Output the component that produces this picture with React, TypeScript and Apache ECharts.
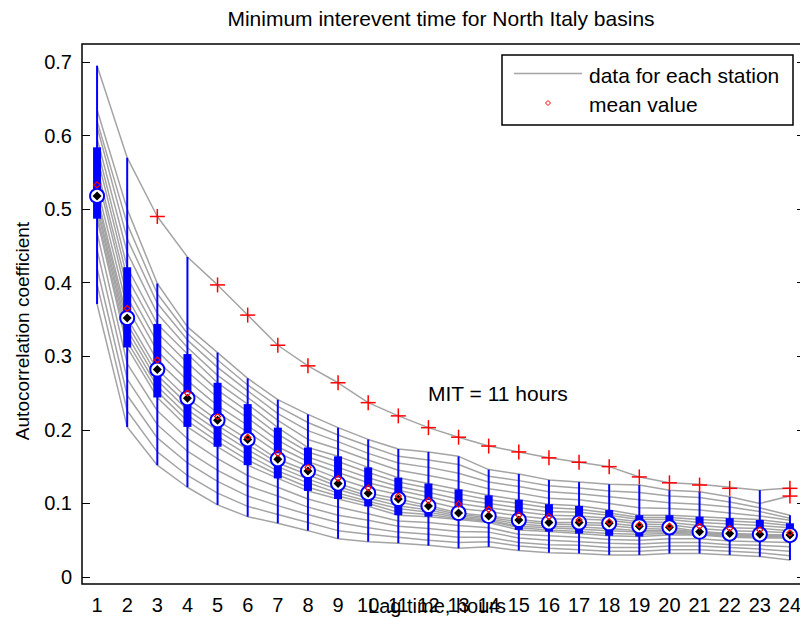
import React, { useEffect, useRef } from "react";
import * as echarts from "echarts";

// ---------------- data ----------------
const LAGS = ["1","2","3","4","5","6","7","8","9","10","11","12","13","14","15","16","17","18","19","20","21","22","23","24"];

// Box statistics per lag
const WHISKER_LOW = [0.371,0.204,0.152,0.122,0.098,0.082,0.073,0.063,0.052,0.048,0.046,0.0425,0.039,0.041,0.036,0.033,0.032,0.030,0.030,0.032,0.032,0.030,0.0276,0.023];
const Q1 = [0.487,0.312,0.244,0.204,0.177,0.152,0.134,0.117,0.106,0.096,0.084,0.082,0.0775,0.074,0.064,0.0616,0.059,0.056,0.055,0.057,0.057,0.054,0.0526,0.0526];
const MEDIAN = [0.518,0.352,0.282,0.243,0.213,0.187,0.160,0.144,0.127,0.114,0.106,0.0965,0.087,0.083,0.0775,0.074,0.074,0.073,0.069,0.0675,0.0616,0.059,0.058,0.057];
const Q3 = [0.584,0.421,0.344,0.303,0.264,0.235,0.203,0.176,0.164,0.149,0.135,0.127,0.119,0.111,0.105,0.099,0.0965,0.091,0.084,0.084,0.082,0.080,0.0775,0.073];
const WHISKER_HIGH = [0.695,0.570,0.399,0.435,0.305,0.270,0.241,0.221,0.203,0.187,0.174,0.170,0.164,0.146,0.140,0.132,0.129,0.126,0.125,0.118,0.116,0.109,0.118,0.084];
const MEANS = [0.533,0.365,0.295,0.250,0.218,0.190,0.168,0.149,0.134,0.121,0.110,0.104,0.099,0.092,0.084,0.082,0.0775,0.075,0.071,0.069,0.069,0.066,0.064,0.060];

// Outliers: [lag index (0-based), value]
const OUTLIERS: [number, number][] = [
  [2,0.490],[4,0.397],[5,0.356],[6,0.315],[7,0.287],[8,0.264],[9,0.237],[10,0.219],
  [11,0.203],[12,0.190],[13,0.178],[14,0.170],[15,0.162],[16,0.156],[17,0.150],
  [18,0.136],[19,0.128],[20,0.125],[21,0.1205],[23,0.1205],[23,0.110]
];

// Station with the highest autocorrelation (the outlier curve)
const TOP_STATION = [0.695,0.570,0.490,0.435,0.397,0.356,0.315,0.287,0.264,0.237,0.219,0.203,0.190,0.178,0.170,0.162,0.156,0.150,0.136,0.128,0.126,0.122,0.118,0.121];

// Other stations: one row per lag, one column per station (estimated)
const STATIONS_BY_LAG: number[][] = [
  [.371,.398,.420,.445,.468,.487,.492,.500,.505,.513,.518,.530,.547,.556,.572,.584,.596,.612,.620,.635],
  [.204,.226,.247,.269,.290,.312,.320,.328,.336,.344,.352,.366,.380,.393,.407,.421,.441,.460,.480,.500],
  [.152,.170,.189,.207,.226,.244,.252,.259,.267,.274,.282,.294,.307,.319,.332,.344,.358,.372,.385,.399],
  [.122,.138,.155,.171,.188,.204,.212,.220,.227,.235,.243,.255,.267,.279,.291,.303,.312,.322,.331,.340],
  [.098,.114,.130,.145,.161,.177,.184,.191,.199,.206,.213,.223,.233,.244,.254,.264,.274,.285,.295,.305],
  [.082,.096,.110,.124,.138,.152,.159,.166,.173,.180,.187,.197,.206,.216,.225,.235,.244,.253,.261,.270],
  [.073,.085,.097,.110,.122,.134,.139,.144,.150,.155,.160,.169,.177,.186,.194,.203,.213,.222,.232,.241],
  [.063,.074,.085,.095,.106,.117,.122,.128,.133,.139,.144,.150,.157,.163,.170,.176,.187,.199,.210,.221],
  [.052,.063,.074,.084,.095,.106,.110,.114,.119,.123,.127,.134,.142,.149,.157,.164,.174,.184,.193,.203],
  [.048,.058,.067,.077,.086,.096,.100,.103,.107,.110,.114,.121,.128,.135,.142,.149,.159,.168,.178,.187],
  [.046,.054,.061,.069,.076,.084,.088,.093,.097,.102,.106,.112,.118,.123,.129,.135,.145,.155,.164,.174],
  [.043,.050,.058,.066,.074,.082,.085,.088,.091,.094,.097,.103,.109,.115,.121,.127,.138,.149,.159,.170],
  [.039,.047,.054,.062,.070,.078,.079,.081,.083,.085,.087,.093,.100,.106,.113,.119,.130,.141,.153,.164],
  [.041,.048,.054,.061,.067,.074,.076,.077,.079,.081,.083,.089,.094,.100,.105,.111,.120,.129,.137,.146],
  [.036,.042,.047,.053,.058,.064,.067,.069,.072,.075,.078,.083,.089,.094,.100,.105,.114,.123,.131,.140],
  [.033,.039,.044,.050,.056,.062,.064,.067,.069,.072,.074,.079,.084,.089,.094,.099,.107,.116,.124,.132],
  [.032,.037,.043,.048,.054,.059,.062,.065,.068,.071,.074,.079,.083,.088,.092,.097,.105,.113,.121,.129],
  [.030,.035,.040,.046,.051,.056,.059,.063,.066,.070,.073,.077,.080,.084,.087,.091,.100,.109,.117,.126],
  [.030,.035,.040,.045,.050,.055,.058,.061,.063,.066,.069,.072,.075,.078,.081,.084,.094,.105,.115,.125],
  [.032,.037,.042,.047,.052,.057,.059,.061,.063,.065,.068,.071,.074,.078,.081,.084,.093,.101,.110,.118],
  [.032,.037,.042,.047,.052,.057,.058,.059,.060,.061,.062,.066,.070,.074,.078,.082,.091,.099,.108,.116],
  [.030,.035,.040,.044,.049,.054,.055,.056,.057,.058,.059,.063,.067,.072,.076,.080,.087,.095,.102,.109],
  [.028,.033,.038,.043,.048,.053,.054,.055,.056,.057,.058,.062,.066,.070,.074,.078,.083,.089,.094,.100],
  [.023,.029,.035,.041,.047,.053,.054,.055,.055,.056,.057,.060,.063,.067,.070,.073,.077,.080,.084,.110]
];

const Y_TICKS = [0, 0.1, 0.2, 0.3, 0.4, 0.5, 0.6, 0.7];

const TITLE = "Minimum interevent time for North Italy basins";
const X_NAME = "Lag time, hours";
const Y_NAME = "Autocorrelation coefficient";
const NOTE = "MIT = 11 hours";
const LEGEND_LINE = "data for each station";
const LEGEND_MEAN = "mean value";

const FONT = "'Liberation Sans', Arial, Helvetica, sans-serif";
const GRAY = "#a4a4a4";
const BLUE = "#0000ff";
const RED = "#ff0000";

export default function App() {
  const ref = useRef<HTMLDivElement>(null);

  useEffect(() => {
    if (!ref.current) return;
    const chart = echarts.init(ref.current, null, { renderer: "svg" });

    const nStations = STATIONS_BY_LAG[0].length;
    const stationSeries: any[] = [];
    for (let s = 0; s < nStations; s++) {
      stationSeries.push({
        type: "line",
        name: LEGEND_LINE,
        data: STATIONS_BY_LAG.map((row) => row[s]),
        showSymbol: false,
        symbol: "none",
        silent: true,
        lineStyle: { color: GRAY, width: 1.5 },
        z: 1,
      });
    }
    stationSeries.push({
      type: "line",
      name: LEGEND_LINE,
      data: TOP_STATION,
      showSymbol: false,
      symbol: "none",
      silent: true,
      lineStyle: { color: GRAY, width: 1.5 },
      z: 1,
    });

    const boxData = LAGS.map((_, i) => [i, WHISKER_LOW[i], Q1[i], MEDIAN[i], Q3[i], WHISKER_HIGH[i], MEANS[i]]);

    const option: any = {
      animation: false,
      backgroundColor: "#ffffff",
      textStyle: { fontFamily: FONT },
      grid: { left: 82, top: 62, width: 723, height: 515, containLabel: false },
      xAxis: {
        type: "category",
        data: LAGS,
        boundaryGap: true,
        axisLine: { show: false },
        axisTick: { show: false },
        splitLine: { show: false },
        axisLabel: { interval: 0, fontSize: 20, color: "#000", fontFamily: FONT, margin: 18 },
      },
      yAxis: [
        {
          type: "value",
          position: "left",
          min: Y_TICKS[0],
          max: Y_TICKS[Y_TICKS.length - 1],
          interval: 0.1,
          axisLine: { show: false },
          axisTick: { show: true, inside: true, length: 8, lineStyle: { color: "#000", width: 1 } },
          splitLine: { show: false },
          axisLabel: {
            fontSize: 20,
            color: "#000",
            fontFamily: FONT,
            margin: 10,
            formatter: (v: number) => (Math.abs(v) < 1e-9 ? "0" : v.toFixed(1)),
          },
        },
        {
          type: "value",
          position: "right",
          min: Y_TICKS[0],
          max: Y_TICKS[Y_TICKS.length - 1],
          interval: 0.1,
          axisLine: { show: false },
          axisTick: { show: true, inside: true, length: 8, lineStyle: { color: "#000", width: 1 } },
          splitLine: { show: false },
          axisLabel: { show: false },
        },
      ],
      series: [
        ...stationSeries,
        {
          type: "custom",
          name: "boxes",
          silent: true,
          z: 5,
          data: boxData,
          renderItem: (params: any, api: any) => {
            const x = api.value(0);
            const p = (k: number) => api.coord([x, api.value(k)]);
            const lo = p(1), q1 = p(2), med = p(3), q3 = p(4), hi = p(5), mean = p(6);
            const cx = lo[0];
            const my = med[1];
            const ey = mean[1];
            return {
              type: "group",
              children: [
                { type: "line", shape: { x1: cx, y1: lo[1], x2: cx, y2: hi[1] }, style: { stroke: BLUE, lineWidth: 2 } },
                { type: "rect", shape: { x: cx - 4, y: q3[1], width: 8, height: q1[1] - q3[1] }, style: { fill: BLUE } },
                { type: "circle", shape: { cx, cy: my, r: 7 }, style: { fill: "#fff", stroke: BLUE, lineWidth: 2 } },
                { type: "polygon", shape: { points: [[cx, my - 4.5], [cx + 4.5, my], [cx, my + 4.5], [cx - 4.5, my]] }, style: { fill: "#000" } },
                { type: "polygon", shape: { points: [[cx, ey - 3], [cx + 3, ey], [cx, ey + 3], [cx - 3, ey]] }, style: { fill: "none", stroke: RED, lineWidth: 1.2 } },
              ],
            };
          },
        },
        {
          type: "custom",
          name: "outliers",
          silent: true,
          z: 6,
          data: OUTLIERS,
          renderItem: (params: any, api: any) => {
            const c = api.coord([api.value(0), api.value(1)]);
            return {
              type: "group",
              children: [
                { type: "line", shape: { x1: c[0] - 7.5, y1: c[1], x2: c[0] + 7.5, y2: c[1] }, style: { stroke: RED, lineWidth: 1.5 } },
                { type: "line", shape: { x1: c[0], y1: c[1] - 7.5, x2: c[0], y2: c[1] + 7.5 }, style: { stroke: RED, lineWidth: 1.5 } },
              ],
            };
          },
        },
      ],
      graphic: [
        // axes frame
        { type: "rect", z: 100, silent: true, shape: { x: 82, y: 44, width: 723, height: 540 }, style: { fill: "none", stroke: "#000", lineWidth: 1.5 } },
        // title
        { type: "text", z: 100, x: 441, y: 18, style: { text: TITLE, fontSize: 21, fontFamily: FONT, fill: "#000", align: "center", verticalAlign: "middle" } },
        // axis names
        { type: "text", z: 100, x: 437, y: 606, style: { text: X_NAME, fontSize: 20, fontFamily: FONT, fill: "#000", align: "center", verticalAlign: "middle" } },
        { type: "text", z: 100, x: 22, y: 331, rotation: Math.PI / 2, style: { text: Y_NAME, fontSize: 19, fontFamily: FONT, fill: "#000", align: "center", verticalAlign: "middle" } },
        // annotation
        { type: "text", z: 100, x: 428, y: 393, style: { text: NOTE, fontSize: 21, fontFamily: FONT, fill: "#000", align: "left", verticalAlign: "middle" } },
        // legend
        { type: "rect", z: 100, shape: { x: 502, y: 55, width: 291, height: 70 }, style: { fill: "#fff", stroke: "#000", lineWidth: 1.5 } },
        { type: "line", z: 101, shape: { x1: 514, y1: 73.5, x2: 582, y2: 73.5 }, style: { stroke: GRAY, lineWidth: 1.5 } },
        { type: "polygon", z: 101, shape: { points: [[548, 100.5], [550.5, 103], [548, 105.5], [545.5, 103]] }, style: { fill: "none", stroke: RED, lineWidth: 1 } },
        { type: "text", z: 101, x: 589, y: 75, style: { text: LEGEND_LINE, fontSize: 21, fontFamily: FONT, fill: "#000", align: "left", verticalAlign: "middle" } },
        { type: "text", z: 101, x: 589, y: 104, style: { text: LEGEND_MEAN, fontSize: 21, fontFamily: FONT, fill: "#000", align: "left", verticalAlign: "middle" } },
      ],
    };

    chart.setOption(option);
    return () => chart.dispose();
  }, []);

  return (
    <div style={{ position: "absolute", left: 0, top: 0, width: 800, height: 619, overflow: "hidden", background: "#fff" }}>
      <div ref={ref} style={{ width: 810, height: 619 }} />
    </div>
  );
}
